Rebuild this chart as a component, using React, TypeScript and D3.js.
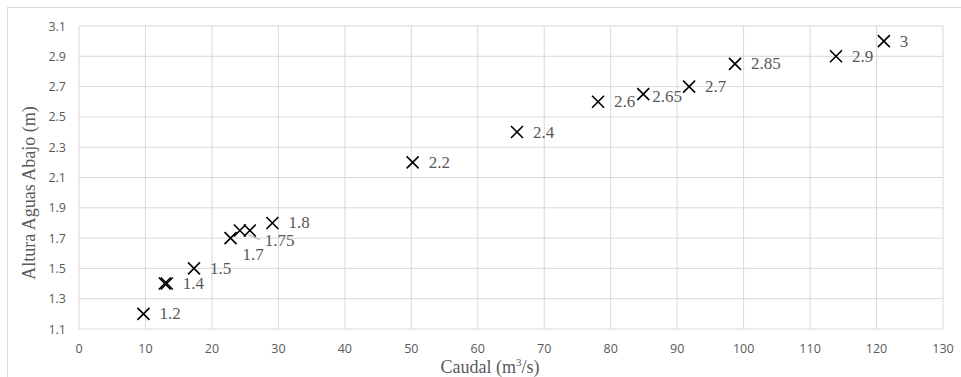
import React from "react";
import * as d3 from "d3";

const caudal = [9.7, 12.9, 13.2, 17.3, 22.8, 24.2, 25.7, 29.1, 50.2, 65.9, 78.1, 84.9, 91.8, 98.7, 113.9, 121.1];
const altura = [1.2, 1.4, 1.4, 1.5, 1.7, 1.75, 1.75, 1.8, 2.2, 2.4, 2.6, 2.65, 2.7, 2.85, 2.9, 3.0];
const labels = ["1.2", "", "1.4", "1.5", "1.7", "", "1.75", "1.8", "2.2", "2.4", "2.6", "2.65", "2.7", "2.85", "2.9", "3"];
const xTicks = [0, 10, 20, 30, 40, 50, 60, 70, 80, 90, 100, 110, 120, 130];
const yTicks = [1.1, 1.3, 1.5, 1.7, 1.9, 2.1, 2.3, 2.5, 2.7, 2.9, 3.1];

// manual label placement tweaks (index -> dx, dy) like the original
const labelTweaks: Record<number, [number, number]> = {
  4: [12, 16],
  6: [15, 10],
  11: [9, 2],
};

export default function App() {
  const W = 961, H = 377;
  const left = 79, right = 943, top = 26, bottom = 329;
  const x = d3.scaleLinear().domain([0, 130]).range([left, right]);
  const y = d3.scaleLinear().domain([1.1, 3.1]).range([bottom, top]);
  const grid = "#d9d9d9";
  const txt = "#595959";
  const m = 6;
  return (
    <svg width={W} height={H} style={{ position: "absolute", left: 0, top: 0, background: "#fff" }}>
      <rect x={7.5} y={7.5} width={W + 10} height={H + 10} fill="#fff" stroke={grid} />
      {xTicks.map((t) => (
        <line key={"gx" + t} x1={x(t)} x2={x(t)} y1={top} y2={bottom} stroke={grid} strokeWidth={1} />
      ))}
      {yTicks.map((t) => (
        <line key={"gy" + t} x1={left} x2={right} y1={y(t)} y2={y(t)} stroke={grid} strokeWidth={1} />
      ))}
      {xTicks.map((t) => (
        <text key={"tx" + t} x={x(t)} y={bottom + 24} textAnchor="middle" fontFamily="'Open Sans', sans-serif" fontSize={12.5} fill={txt}>
          {t}
        </text>
      ))}
      {yTicks.map((t) => (
        <text key={"ty" + t} x={left - 13} y={y(t) + 4.5} textAnchor="end" fontFamily="'Open Sans', sans-serif" fontSize={12.5} fill={txt}>
          {t.toFixed(1)}
        </text>
      ))}
      <text x={490} y={373} textAnchor="middle" fontFamily="'Liberation Serif', serif" fontSize={18} fill={txt}>
        Caudal (m<tspan dy={-7} fontSize={11}>3</tspan><tspan dy={7}>/s)</tspan>
      </text>
      <text transform={`translate(35,193) rotate(-90)`} textAnchor="middle" fontFamily="'Liberation Serif', serif" fontSize={18} fill={txt}>
        Altura Aguas Abajo (m)
      </text>
      {/* leader line for 1.75 */}
      <line x1={x(caudal[6]) - 2} y1={y(altura[6]) + 4} x2={x(caudal[6]) + 10} y2={y(altura[6]) + 9} stroke="#a6a6a6" strokeWidth={1} />
      {caudal.map((c, i) => {
        const cx = x(c), cy = y(altura[i]);
        return (
          <path key={"m" + i} d={`M${cx - m},${cy - m}L${cx + m},${cy + m}M${cx - m},${cy + m}L${cx + m},${cy - m}`} stroke="#000" strokeWidth={1.6} fill="none" />
        );
      })}
      {caudal.map((c, i) => {
        if (!labels[i]) return null;
        const [dx, dy] = labelTweaks[i] || [16, 0];
        return (
          <text key={"l" + i} x={x(c) + dx} y={y(altura[i]) + dy + 5.5} fontFamily="'Liberation Serif', serif" fontSize={17} fill={txt}>
            {labels[i]}
          </text>
        );
      })}
    </svg>
  );
}
